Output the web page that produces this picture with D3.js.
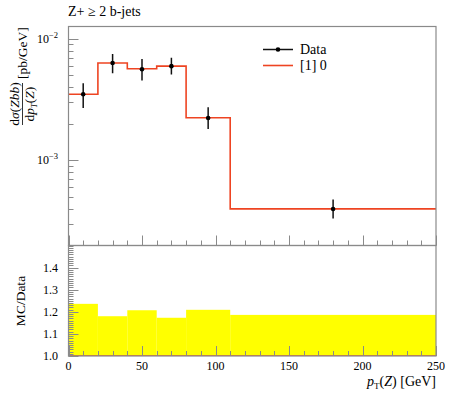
<!DOCTYPE html>
<html>
<head>
<meta charset="utf-8">
<script src="https://cdn.jsdelivr.net/npm/d3@7"></script>
<style>
  body { margin: 0; background: #fff; }
  svg { font-family: "Liberation Serif", "DejaVu Serif", serif; }
</style>
</head>
<body>
<svg id="chart" width="450" height="393"></svg>
<script>
// bins in pT(Z) [GeV]
var binEdges = [0, 20, 40, 60, 80, 110, 250];
var dataX = [10, 30, 50, 70, 95, 180];
var dataY = [3.50e-3, 6.31e-3, 5.62e-3, 5.95e-3, 2.23e-3, 3.99e-4];
var dataLow = [2.69e-3, 5.21e-3, 4.53e-3, 5.08e-3, 1.81e-3, 3.33e-4];
var dataHigh = [4.31e-3, 7.48e-3, 6.81e-3, 6.97e-3, 2.74e-3, 4.77e-4];
// MC prediction "[1] 0", one value per bin
var mcY = [3.50e-3, 6.31e-3, 5.66e-3, 5.95e-3, 2.24e-3, 4.00e-4];
// upper edge of the yellow band in the ratio panel
var bandHigh = [1.236, 1.180, 1.207, 1.173, 1.209, 1.186];

var xTicks = [0, 50, 100, 150, 200, 250];
var ratioTicks = [1.0, 1.1, 1.2, 1.3, 1.4];

var svg = d3.select('#chart');
var red = '#ee4422';
var frameCol = '#8a8a8a';

// panel edges (avoid window.top)
var pLeft = 68.5, pRight = 436, pTop = 26.5, pMid = 245.5, pBottom = 356;

var x = d3.scaleLinear().domain([0, 250]).range([pLeft, pRight]);
var y = d3.scaleLog().domain([2e-4, 1.26e-2]).range([pMid, pTop]);
var yr = d3.scaleLinear().domain([1.0, 1.5]).range([pBottom, pMid]);

// clip paths
var defs = svg.append('defs');
defs.append('clipPath').attr('id', 'clipMain')
  .append('rect').attr('x', pLeft).attr('y', pTop).attr('width', pRight - pLeft).attr('height', pMid - pTop);
defs.append('clipPath').attr('id', 'clipRatio')
  .append('rect').attr('x', pLeft).attr('y', pMid).attr('width', pRight - pLeft).attr('height', pBottom - pMid);

// title
svg.append('text').attr('x', 68).attr('y', 16).attr('font-size', 14)
  .text('Z+ \u2265 2 b-jets');

// ---- main panel ----
var main = svg.append('g').attr('clip-path', 'url(#clipMain)');

var stepPts = mcY.map(function (v, i) { return [binEdges[i], v]; });
stepPts.push([binEdges[binEdges.length - 1], mcY[mcY.length - 1]]);
var step = d3.line()
  .x(function (d) { return x(d[0]); })
  .y(function (d) { return y(d[1]); })
  .curve(d3.curveStepAfter);

main.append('path').datum(stepPts)
  .attr('d', step)
  .attr('fill', 'none')
  .attr('stroke', red)
  .attr('stroke-width', 1.6);

// data points with error bars
var pts = main.append('g');
pts.selectAll('line').data(dataX).enter().append('line')
  .attr('x1', function (d) { return x(d); })
  .attr('x2', function (d) { return x(d); })
  .attr('y1', function (d, i) { return y(dataHigh[i]); })
  .attr('y2', function (d, i) { return y(dataLow[i]); })
  .attr('stroke', '#111')
  .attr('stroke-width', 1.5);
pts.selectAll('circle').data(dataX).enter().append('circle')
  .attr('cx', function (d) { return x(d); })
  .attr('cy', function (d, i) { return y(dataY[i]); })
  .attr('r', 2.3)
  .attr('fill', '#000');

// log axis ticks on the left
var logTicks = [];
[1e-4, 1e-3, 1e-2].forEach(function (dec) {
  for (var k = 1; k <= 9; k++) {
    var v = dec * k;
    if (v >= 2e-4 && v <= 1.26e-2) logTicks.push({ v: v, major: k === 1 });
  }
});
svg.append('g').selectAll('line').data(logTicks).enter().append('line')
  .attr('x1', pLeft)
  .attr('x2', function (d) { return pLeft + (d.major ? 10 : 5); })
  .attr('y1', function (d) { return Math.round(y(d.v)) + 0.5; })
  .attr('y2', function (d) { return Math.round(y(d.v)) + 0.5; })
  .attr('stroke', frameCol)
  .attr('stroke-width', 1);

var decLabels = svg.append('g').attr('font-size', 12);
[1e-2, 1e-3].forEach(function (v) {
  var exp = Math.round(Math.log10(v));
  var t = decLabels.append('text')
    .attr('x', 58).attr('y', y(v) + 4)
    .attr('text-anchor', 'end');
  t.append('tspan').text('10');
  t.append('tspan').attr('dy', -5).attr('font-size', 8.5).text('\u2212' + Math.abs(exp));
});

// x ticks (bottom of main and ratio)
var xMinor = d3.range(0, 251, 10);
function xTickMarks(yBase) {
  svg.append('g').selectAll('line').data(xMinor).enter().append('line')
    .attr('x1', function (d) { return Math.round(x(d)) + 0.5; })
    .attr('x2', function (d) { return Math.round(x(d)) + 0.5; })
    .attr('y1', yBase)
    .attr('y2', function (d) { return yBase - (d % 50 === 0 ? 10 : 5); })
    .attr('stroke', frameCol)
    .attr('stroke-width', 1);
}

// legend
var leg = svg.append('g');
leg.append('line').attr('x1', 263).attr('x2', 293).attr('y1', 49.5).attr('y2', 49.5)
  .attr('stroke', '#111').attr('stroke-width', 1.5);
leg.append('circle').attr('cx', 278).attr('cy', 49.5).attr('r', 2.3).attr('fill', '#000');
leg.append('text').attr('x', 300).attr('y', 54).attr('font-size', 14).text('Data');
leg.append('line').attr('x1', 263).attr('x2', 293).attr('y1', 65.5).attr('y2', 65.5)
  .attr('stroke', red).attr('stroke-width', 1.6);
leg.append('text').attr('x', 300).attr('y', 70).attr('font-size', 14).text('[1] 0');

// ---- ratio panel ----
var ratio = svg.append('g').attr('clip-path', 'url(#clipRatio)');
ratio.selectAll('rect').data(bandHigh).enter().append('rect')
  .attr('x', function (d, i) { return x(binEdges[i]); })
  .attr('width', function (d, i) { return x(binEdges[i + 1]) - x(binEdges[i]); })
  .attr('y', function (d) { return yr(d); })
  .attr('height', function (d) { return yr(2 - d) - yr(d); })
  .attr('fill', '#ffff00');
ratio.append('line')
  .attr('x1', pLeft).attr('x2', pRight)
  .attr('y1', yr(1.0)).attr('y2', yr(1.0))
  .attr('stroke', red).attr('stroke-width', 1.6);

var rMinor = d3.range(100, 150).map(function (d) { return d / 100; });
svg.append('g').selectAll('line').data(rMinor).enter().append('line')
  .attr('x1', pLeft)
  .attr('x2', function (d) { return pLeft + (Math.round(d * 100) % 10 === 0 ? 10 : 5); })
  .attr('y1', function (d) { return Math.round(yr(d)) + 0.5; })
  .attr('y2', function (d) { return Math.round(yr(d)) + 0.5; })
  .attr('stroke', frameCol)
  .attr('stroke-width', 1);

svg.append('g').attr('font-size', 12).selectAll('text').data(ratioTicks).enter().append('text')
  .attr('x', 58)
  .attr('y', function (d) { return yr(d) + 4; })
  .attr('text-anchor', 'end')
  .text(function (d) { return d.toFixed(1); });

xTickMarks(pMid);
xTickMarks(pBottom);

// frames
svg.append('rect').attr('x', pLeft).attr('y', pTop).attr('width', pRight - pLeft).attr('height', pMid - pTop)
  .attr('fill', 'none').attr('stroke', frameCol).attr('stroke-width', 1.2);
svg.append('rect').attr('x', pLeft).attr('y', pMid).attr('width', pRight - pLeft).attr('height', pBottom - pMid)
  .attr('fill', 'none').attr('stroke', frameCol).attr('stroke-width', 1.2);

// x tick labels
svg.append('g').attr('font-size', 12).selectAll('text').data(xTicks).enter().append('text')
  .attr('x', function (d) { return x(d); })
  .attr('y', 370)
  .attr('text-anchor', 'middle')
  .text(function (d) { return d; });

// x axis label
svg.append('text').attr('x', 436).attr('y', 386).attr('text-anchor', 'end').attr('font-size', 14)
  .html('<tspan font-style="italic">p</tspan><tspan font-size="9" dy="3">T</tspan><tspan dy="-3">(</tspan><tspan font-style="italic">Z</tspan>) [GeV]');

// y axis label of main panel (rotated fraction)
var yl = svg.append('g').attr('transform', 'rotate(-90)').attr('font-size', 13.5);
yl.append('text').attr('x', -104).attr('y', 18.5).attr('text-anchor', 'middle')
  .html('d<tspan font-style="italic">\u03c3</tspan>(<tspan font-style="italic">Zbb</tspan>)');
yl.append('text').attr('x', -104).attr('y', 34).attr('text-anchor', 'middle')
  .html('d<tspan font-style="italic">p</tspan><tspan font-size="8.5" font-style="italic" dy="3">T</tspan><tspan dy="-3">(</tspan><tspan font-style="italic">Z</tspan>)');
yl.append('line').attr('x1', -125).attr('x2', -83).attr('y1', 22.5).attr('y2', 22.5)
  .attr('stroke', '#000').attr('stroke-width', 0.8);
yl.append('text').attr('x', -79).attr('y', 27).attr('text-anchor', 'start').text('[pb/GeV]');

// ratio label
svg.append('text').attr('transform', 'rotate(-90)').attr('x', -301).attr('y', 25)
  .attr('text-anchor', 'middle').attr('font-size', 13.5).text('MC/Data');
</script>
</body>
</html>
